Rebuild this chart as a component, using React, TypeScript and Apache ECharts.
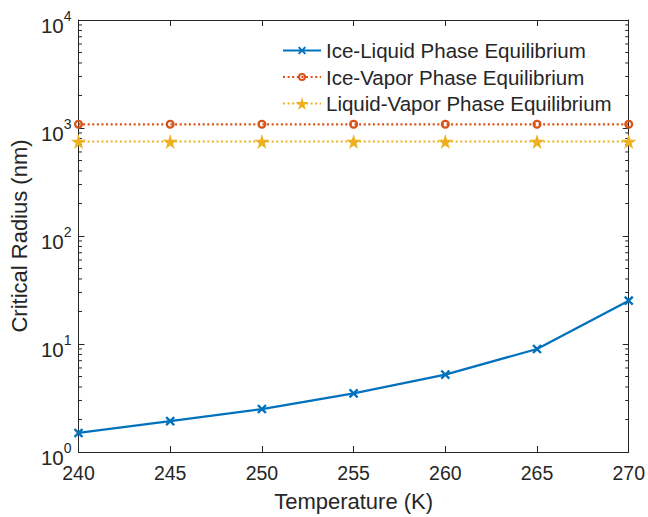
import React, { useEffect, useRef } from "react";
import * as echarts from "echarts";

const temperatures = [240, 245, 250, 255, 260, 265, 270];
const iceLiquid = [1.5, 1.93, 2.5, 3.49, 5.21, 8.99, 25.2];
const iceVapor = [1082, 1082, 1082, 1082, 1082, 1082, 1082];
const liquidVapor = [750, 750, 750, 750, 750, 750, 750];
const seriesNames = [
  "Ice-Liquid Phase Equilibrium",
  "Ice-Vapor Phase Equilibrium",
  "Liquid-Vapor Phase Equilibrium",
];
const xTicks = [240, 245, 250, 255, 260, 265, 270];
const yDecades = [1, 10, 100, 1000, 10000];
const minorMultipliers = [2, 3, 4, 5, 6, 7, 8, 9];

const FONT = "Liberation Sans, Arial, Helvetica, sans-serif";
const AX = "#262626";
const BLUE = "#0072BD";
const ORANGE = "#D95319";
const YELLOW = "#EDB120";

// padded symbol paths (the lone move-to points enlarge the bounding box)
const crossPath =
  "path://M-3,-3 M13,13 M1.7,0 L5,3.3 L8.3,0 L10,1.7 L6.7,5 L10,8.3 L8.3,10 L5,6.7 L1.7,10 L0,8.3 L3.3,5 L0,1.7 Z";
const ringPath =
  "path://M-3,-3 M13,13 M0,5 A5,5 0 1,0 10,5 A5,5 0 1,0 0,5 Z M2.5,5 A2.5,2.5 0 1,1 7.5,5 A2.5,2.5 0 1,1 2.5,5 Z";
const starPath =
  "path://M50,0 L61,35 L98,35 L68,57 L79,91 L50,70 L21,91 L32,57 L2,35 L39,35 Z";

export default function App() {
  const ref = useRef<HTMLDivElement>(null);
  useEffect(() => {
    if (!ref.current) return;
    const chart = echarts.init(ref.current, null, { renderer: "svg" });
    const minorTicks: number[][] = [];
    yDecades.slice(0, -1).forEach((d) =>
      minorMultipliers.forEach((m) => minorTicks.push([240, d * m]))
    );
    const xMin = xTicks[0];
    const xMax = xTicks[xTicks.length - 1];
    const yAxisBase = {
      type: "log" as const,
      min: 1,
      max: 10000,
      logBase: 10,
      axisLine: { show: true, lineStyle: { color: AX, width: 1 } },
      axisTick: { show: true, inside: true, length: 6, lineStyle: { color: AX } },
      splitLine: { show: false },
    };
    const xAxisBase = {
      type: "value" as const,
      min: xMin,
      max: xMax,
      interval: 5,
      axisLine: { show: true, lineStyle: { color: AX, width: 1 } },
      axisTick: { show: true, inside: true, length: 6, lineStyle: { color: AX } },
      splitLine: { show: false },
    };
    chart.setOption({
      animation: false,
      backgroundColor: "#ffffff",
      grid: { left: 78, right: 16, top: 20, bottom: 62, containLabel: false },
      legend: {
        orient: "vertical",
        left: 282,
        top: 40,
        padding: 0,
        itemGap: 5.5,
        itemWidth: 38,
        itemHeight: 16,
        data: seriesNames,
        textStyle: { fontFamily: FONT, fontSize: 20.5, color: AX, lineHeight: 20, padding: [0, 0, 0, 0] },
      },
      xAxis: [
        {
          ...xAxisBase,
          position: "bottom",
          name: "Temperature (K)",
          nameLocation: "middle",
          nameGap: 38,
          nameTextStyle: { fontFamily: FONT, fontSize: 22, color: AX },
          axisLabel: { fontFamily: FONT, fontSize: 19.5, color: AX, margin: 11 },
        },
        {
          ...xAxisBase,
          position: "top",
          axisLabel: { show: false },
        },
      ],
      yAxis: [
        {
          ...yAxisBase,
          position: "left",
          name: "Critical Radius (nm)",
          nameLocation: "middle",
          nameGap: 43,
          nameTextStyle: { fontFamily: FONT, fontSize: 22, color: AX },
          axisLabel: {
            margin: 7,
            formatter: (v: number) => `{b|10}{s|${Math.round(Math.log10(v))}}`,
            rich: {
              b: { fontFamily: FONT, fontSize: 20.5, color: AX, verticalAlign: "bottom", padding: [10, 0, 0, 0] },
              s: { fontFamily: FONT, fontSize: 14, color: AX, verticalAlign: "top", padding: [4, 0, 12, 0] },
            },
          },
        },
        {
          ...yAxisBase,
          position: "right",
          axisLabel: { show: false },
        },
      ],
      series: [
        {
          name: seriesNames[0],
          type: "line",
          data: temperatures.map((t, i) => [t, iceLiquid[i]]),
          color: BLUE,
          symbol: crossPath,
          symbolSize: 15.5,
          showAllSymbol: true,
          lineStyle: { color: BLUE, width: 2.3 },
          itemStyle: { color: BLUE },
        },
        {
          name: seriesNames[1],
          type: "line",
          data: temperatures.map((t, i) => [t, iceVapor[i]]),
          color: ORANGE,
          symbol: ringPath,
          symbolSize: 14.5,
          lineStyle: { color: ORANGE, width: 2.2, type: [2, 2.6] },
          itemStyle: { color: ORANGE },
        },
        {
          name: seriesNames[2],
          type: "line",
          data: temperatures.map((t, i) => [t, liquidVapor[i]]),
          color: YELLOW,
          symbol: starPath,
          symbolSize: 15,
          lineStyle: { color: YELLOW, width: 2.2, type: [2, 2.6] },
          itemStyle: { color: YELLOW },
        },
        {
          type: "custom",
          silent: true,
          clip: false,
          data: minorTicks,
          renderItem: (_params: any, api: any) => {
            const v = api.value(1);
            const l = api.coord([xMin, v]);
            const r = api.coord([xMax, v]);
            const style = { stroke: AX, lineWidth: 1 };
            return {
              type: "group",
              children: [
                { type: "line", shape: { x1: l[0], y1: l[1], x2: l[0] + 3.5, y2: l[1] }, style },
                { type: "line", shape: { x1: r[0], y1: r[1], x2: r[0] - 3.5, y2: r[1] }, style },
              ],
            };
          },
        },
      ],
    });
    return () => chart.dispose();
  }, []);
  return (
    <div
      ref={ref}
      style={{ position: "fixed", left: 0, top: 0, width: 648, height: 517, background: "#fff" }}
    />
  );
}
